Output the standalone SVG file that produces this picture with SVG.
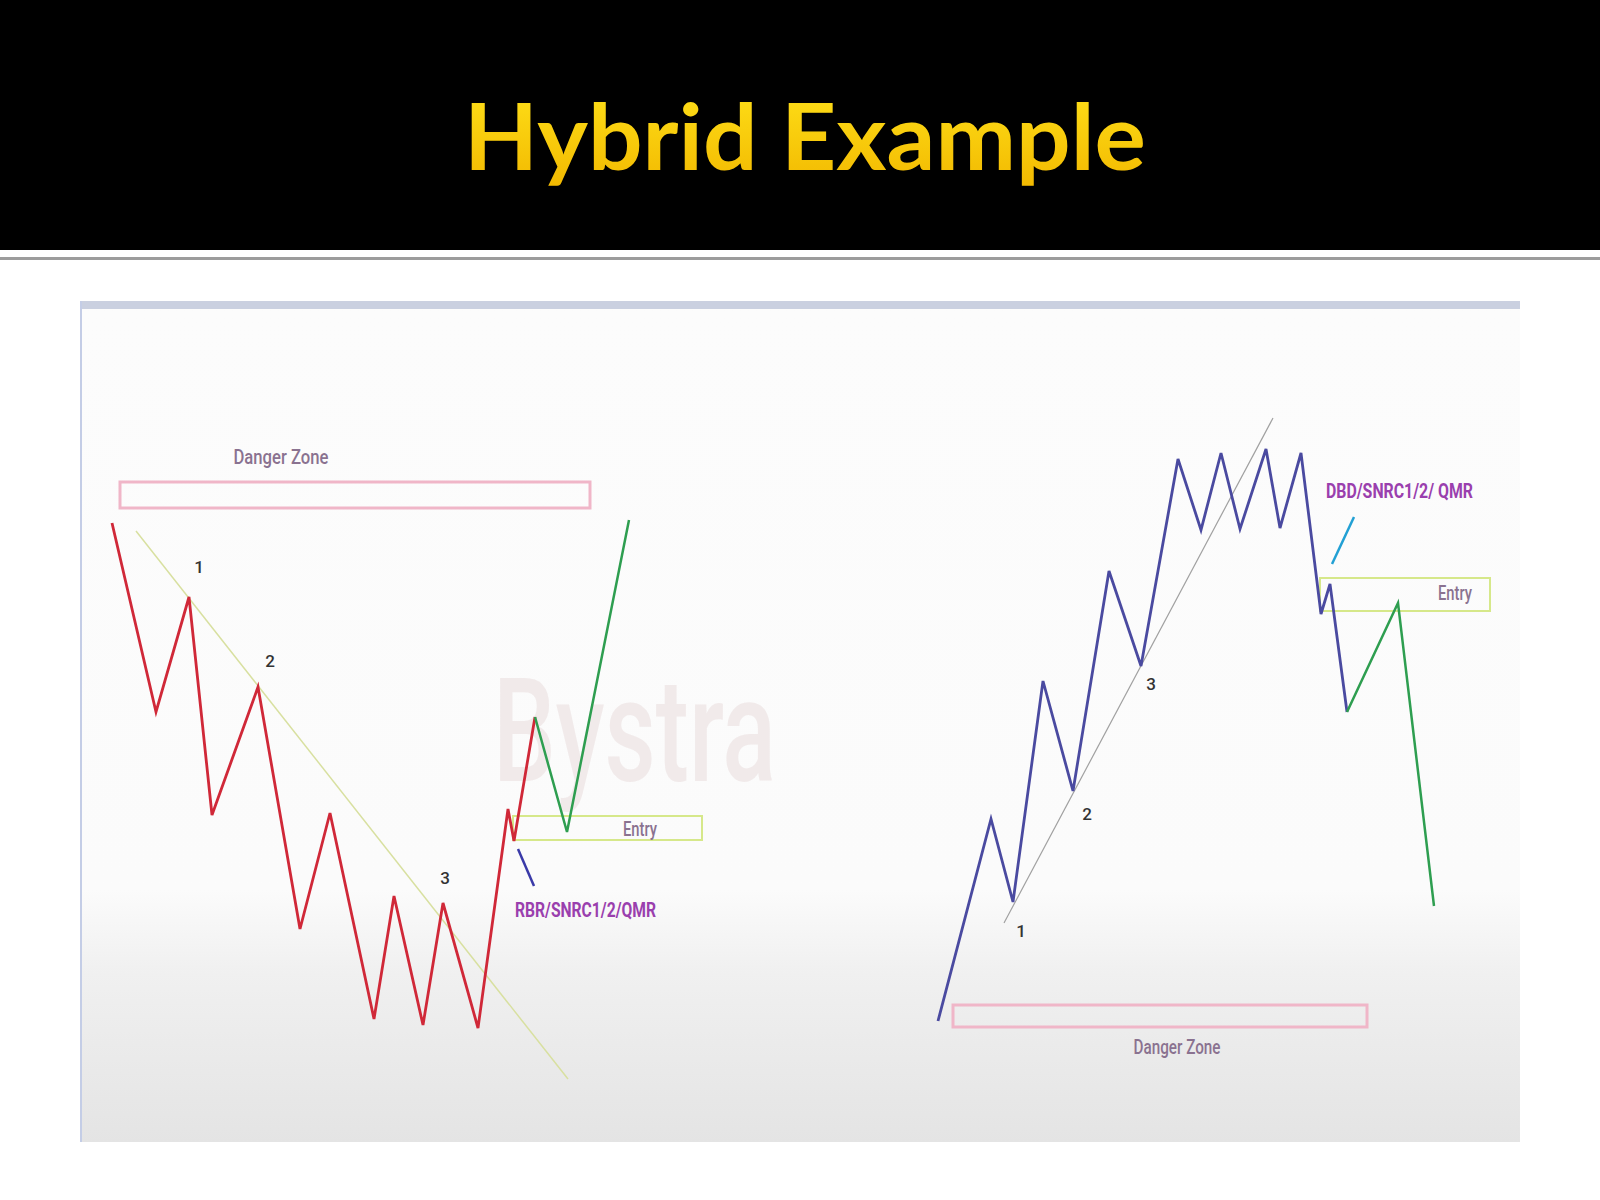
<svg xmlns="http://www.w3.org/2000/svg" width="1600" height="1200" viewBox="0 0 1600 1200">
<defs>
<linearGradient id="panelBg" x1="0" y1="0" x2="0" y2="1">
<stop offset="0" stop-color="#fcfcfc"/>
<stop offset="0.7" stop-color="#fbfbfb"/>
<stop offset="0.8" stop-color="#f0f0f0"/>
<stop offset="1" stop-color="#e4e4e4"/>
</linearGradient>
<linearGradient id="titleFill" x1="0" y1="0" x2="0" y2="1">
<stop offset="0" stop-color="#ffe21a"/>
<stop offset="1" stop-color="#f2b800"/>
</linearGradient>
</defs>
<style>
.lbl{font-family:"Roboto","Liberation Sans",sans-serif;font-weight:500}
.zone{fill:none;stroke:#f0b6c8;stroke-width:3}
.entry{fill:none;stroke:#d6e88a;stroke-width:2}
.red{fill:none;stroke:#d02838;stroke-width:2.8;stroke-linejoin:miter}
.green{fill:none;stroke:#2e9e50;stroke-width:2.5}
.blue{fill:none;stroke:#4a4aa0;stroke-width:2.8}
.zt{fill:#8a7290;font-size:20px}
.num{fill:#333;font-size:17px}
.pl{fill:#9a3fae;font-size:20px;font-weight:700}
</style>
<rect x="0" y="0" width="1600" height="1200" fill="#ffffff"/>
<rect x="0" y="0" width="1600" height="250" fill="#000000"/>
<rect x="0" y="257" width="1600" height="3" fill="#9c9c9c"/>
<text x="805" y="170" text-anchor="middle" font-family="Lato,'Open Sans',sans-serif" font-weight="700" font-size="92" fill="url(#titleFill)" textLength="682" lengthAdjust="spacingAndGlyphs">Hybrid Example</text>

<g id="panel">
<rect x="80" y="301" width="1440" height="841" fill="url(#panelBg)"/>
<rect x="80" y="301" width="1440" height="8" fill="#cad0e0"/>
<rect x="80" y="301" width="2" height="841" fill="#c4cde6"/>
</g>

<g id="watermark">
<text x="493" y="781" class="lbl" font-size="145" font-weight="700" fill="#ede3e3" fill-opacity="0.7" textLength="283" lengthAdjust="spacingAndGlyphs">Bystra</text>
</g>

<g id="left-chart">
<g id="left-danger-zone">
<rect x="120" y="482" width="470" height="26" class="zone"/>
<text x="281" y="464" text-anchor="middle" class="lbl zt" textLength="95" lengthAdjust="spacingAndGlyphs">Danger Zone</text>
</g>
<g id="left-entry">
<rect x="513" y="816" width="189" height="24" class="entry"/>
<text x="640" y="836" text-anchor="middle" class="lbl zt" font-size="19" textLength="34" lengthAdjust="spacingAndGlyphs">Entry</text>
</g>
<g id="left-labels">
<text x="199" y="573" text-anchor="middle" class="lbl num">1</text>
<text x="270" y="667" text-anchor="middle" class="lbl num">2</text>
<text x="445" y="884" text-anchor="middle" class="lbl num">3</text>
<text x="515" y="917" class="lbl pl" textLength="141" lengthAdjust="spacingAndGlyphs">RBR/SNRC1/2/QMR</text>
</g>
</g>

<g id="right-chart">
<g id="right-danger-zone">
<rect x="953" y="1005" width="414" height="22" class="zone"/>
<text x="1177" y="1054" text-anchor="middle" class="lbl zt" textLength="87" lengthAdjust="spacingAndGlyphs">Danger Zone</text>
</g>
<g id="right-entry">
<rect x="1320" y="578" width="170" height="33" class="entry"/>
<text x="1455" y="600" text-anchor="middle" class="lbl zt" font-size="19" textLength="34" lengthAdjust="spacingAndGlyphs">Entry</text>
</g>
<g id="right-labels">
<text x="1021" y="937" text-anchor="middle" class="lbl num">1</text>
<text x="1087" y="820" text-anchor="middle" class="lbl num" fill="#4a2424">2</text>
<text x="1151" y="690" text-anchor="middle" class="lbl num" fill="#4a2424">3</text>
<text x="1326" y="498" class="lbl pl" textLength="147" lengthAdjust="spacingAndGlyphs">DBD/SNRC1/2/ QMR</text>
</g>
</g>

<g id="connectors">
<line x1="136" y1="531" x2="568" y2="1079" stroke="#d8e0a0" stroke-width="1.5"/>
<polyline class="red" points="112,523 156,712 189,597 212,815 258,687 300,929 330,813 374,1019 394,896 423,1025 443,903 478,1028 508,809 514,841 535,717"/>
<polyline class="green" points="535,717 567,832 629,520"/>
<line x1="518" y1="849" x2="534" y2="886" stroke="#3a3aa8" stroke-width="2.5"/>

<line x1="1004" y1="923" x2="1273" y2="418" stroke="#a0a0a0" stroke-width="1.2"/>
<polyline class="blue" points="938,1021 991,819 1013,902 1043,681 1073,791 1109,571 1141,666 1178,459 1201,530 1221,453 1240,529 1266,449 1280,528 1301,453 1321,614 1330,584 1347,712"/>
<polyline class="green" points="1347,712 1398,603 1434,906"/>
<line x1="1354" y1="517" x2="1332" y2="564" stroke="#22a0d4" stroke-width="2.5"/>
</g>
</svg>
